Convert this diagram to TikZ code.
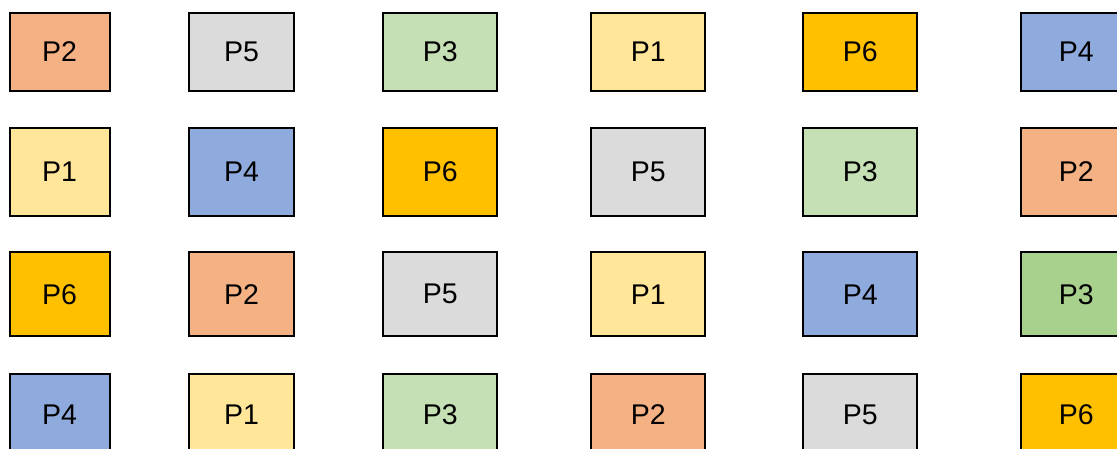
\documentclass[tikz,border=0pt]{standalone}
\usepackage{fontspec}
\setmainfont{Liberation Sans}
\definecolor{cOne}{HTML}{FFE699}
\definecolor{cTwo}{HTML}{F4B183}
\definecolor{cThree}{HTML}{C5E0B4}
\definecolor{cThreeDark}{HTML}{A9D18E}
\definecolor{cFour}{HTML}{8FAADC}
\definecolor{cFive}{HTML}{DBDBDB}
\definecolor{cSix}{HTML}{FFC000}
\tikzset{
  cell/.style={draw=black, line width=2pt, rectangle, inner sep=0pt, outer sep=0pt,
    font=\fontsize{28.5}{32}\selectfont, text=black},
  % column widths
  colA/.style={minimum width=100pt},
  colB/.style={minimum width=105.6pt},
  colC/.style={minimum width=114pt},
  colD/.style={minimum width=114pt},
  colE/.style={minimum width=114pt},
  colF/.style={minimum width=111.6pt},
  % row heights
  rowA/.style={minimum height=78pt},
  rowB/.style={minimum height=87.5pt},
  rowC/.style={minimum height=84pt},
  rowD/.style={minimum height=82.5pt},
}
\begin{document}
\begin{tikzpicture}[x=1pt,y=-1pt]
\useasboundingbox (0,0) rectangle (1117,448);
\clip (0,0) rectangle (1117,448);
\fill[white] (0,0) rectangle (1117,448);

% row 1
\node[cell,colA,rowA,fill=cTwo]   (r1c1) at (59.5,51.5)  {P2};
\node[cell,colB,rowA,fill=cFive]  (r1c2) at (241.5,51.5) {P5};
\node[cell,colC,rowA,fill=cThree] (r1c3) at (440.3,51.5) {P3};
\node[cell,colD,rowA,fill=cOne]   (r1c4) at (648.3,51.5) {P1};
\node[cell,colE,rowA,fill=cSix]   (r1c5) at (860.3,51.5) {P6};
\node[cell,colF,rowA,fill=cFour]  (r1c6) at (1076.3,51.5) {P4};

% row 2
\node[cell,colA,rowB,fill=cOne]   (r2c1) at (59.5,171.75)  {P1};
\node[cell,colB,rowB,fill=cFour]  (r2c2) at (241.5,171.75) {P4};
\node[cell,colC,rowB,fill=cSix]   (r2c3) at (440.3,171.75) {P6};
\node[cell,colD,rowB,fill=cFive]  (r2c4) at (648.3,171.75) {P5};
\node[cell,colE,rowB,fill=cThree] (r2c5) at (860.3,171.75) {P3};
\node[cell,colF,rowB,fill=cTwo]   (r2c6) at (1076.3,171.75) {P2};

% row 3
\node[cell,colA,rowC,fill=cSix]       (r3c1) at (59.5,294.3)  {P6};
\node[cell,colB,rowC,fill=cTwo]       (r3c2) at (241.5,294.3) {P2};
\node[cell,colC,rowC,fill=cFive]      (r3c3) at (440.3,294.3) {P5};
\node[cell,colD,rowC,fill=cOne]       (r3c4) at (648.3,294.3) {P1};
\node[cell,colE,rowC,fill=cFour]      (r3c5) at (860.3,294.3) {P4};
\node[cell,colF,rowC,fill=cThreeDark] (r3c6) at (1076.3,294.3) {P3};

% row 4
\node[cell,colA,rowD,fill=cFour]  (r4c1) at (59.5,414.75)  {P4};
\node[cell,colB,rowD,fill=cOne]   (r4c2) at (241.5,414.75) {P1};
\node[cell,colC,rowD,fill=cThree] (r4c3) at (440.3,414.75) {P3};
\node[cell,colD,rowD,fill=cTwo]   (r4c4) at (648.3,414.75) {P2};
\node[cell,colE,rowD,fill=cFive]  (r4c5) at (860.3,414.75) {P5};
\node[cell,colF,rowD,fill=cSix]   (r4c6) at (1076.3,414.75) {P6};
\end{tikzpicture}
\end{document}
